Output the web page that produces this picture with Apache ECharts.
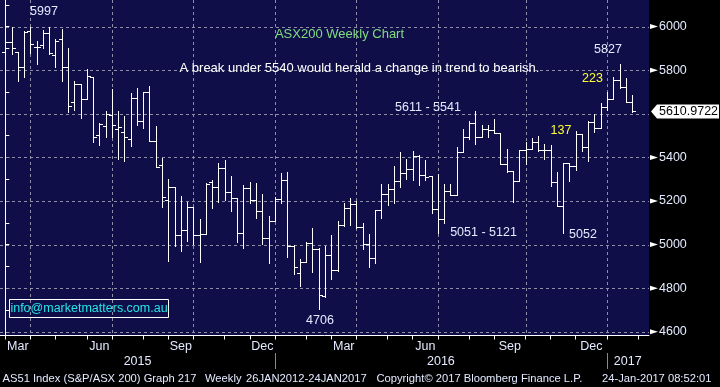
<!DOCTYPE html>
<html><head><meta charset="utf-8">
<script src="https://cdn.jsdelivr.net/npm/echarts@6/dist/echarts.min.js"></script>
<style>html,body{margin:0;padding:0;background:#000;}#c{width:720px;height:387px;}</style>
</head><body><div id="c"></div>
<script>
// Weekly OHLC bars (index 0 = week ending 27 Feb 2015 ... 100 = week of 24 Jan 2017)
const opens  = [5882,5931,5882,5813,5982,5908,5914,5969,5870,5942,5813,5652,5735,5666,5767,5502,5542,5595,5529,5517,5486,5672,5565,5700,5475,5363,5206,5262,5042,5068,5171,5042,5049,5285,5266,5350,5240,5215,5052,5258,5205,5154,5029,5108,5209,5296,4994,4869,4919,5006,4980,4766,4953,4884,5088,5166,5184,5082,5001,4937,5158,5234,5253,5291,5330,5349,5405,5317,5315,5162,5116,5246,5229,5424,5493,5559,5493,5531,5527,5513,5371,5336,5290,5432,5437,5470,5432,5432,5287,5179,5374,5362,5507,5447,5562,5535,5631,5668,5757,5723,5653];
const highs  = [5957,5997,5882,5980,5997,5934,5985,5997,5943,5989,5900,5750,5735,5805,5767,5556,5612,5714,5614,5591,5695,5718,5700,5729,5545,5395,5303,5262,5222,5195,5171,5118,5283,5296,5373,5388,5315,5215,5273,5285,5281,5232,5131,5220,5330,5334,4998,4933,5011,5075,4983,4994,5044,5108,5189,5216,5201,5097,5049,5158,5280,5280,5359,5425,5394,5428,5413,5390,5315,5325,5279,5279,5447,5531,5569,5611,5547,5550,5574,5513,5440,5336,5432,5470,5489,5500,5461,5458,5333,5374,5374,5520,5507,5569,5599,5650,5700,5769,5827,5765,5688];
const lows   = [5873,5873,5752,5767,5880,5827,5900,5873,5813,5752,5609,5617,5579,5666,5471,5459,5494,5495,5392,5385,5452,5549,5537,5475,5354,5172,4926,4995,4972,5018,5005,4918,5049,5169,5197,5205,5156,5014,4983,5189,5121,5002,4915,5108,5192,4945,4866,4808,4918,4876,4706,4760,4841,4880,5085,5090,5075,4979,4899,4915,5123,5181,5189,5265,5303,5295,5273,5295,5147,5051,5100,5226,5229,5424,5485,5463,5493,5493,5513,5371,5333,5195,5290,5371,5437,5428,5392,5267,5179,5052,5290,5340,5428,5385,5515,5535,5619,5668,5719,5653,5608];
const closes = [5931,5900,5813,5977,5919,5905,5969,5877,5934,5813,5635,5735,5666,5775,5494,5552,5597,5549,5538,5492,5672,5565,5700,5475,5357,5217,5262,5042,5068,5171,5042,5049,5280,5266,5350,5240,5215,5052,5258,5205,5154,5029,5108,5209,5296,4994,4896,4919,5006,4980,4769,4953,4884,5088,5166,5184,5082,5001,4937,5158,5234,5253,5291,5330,5349,5405,5317,5311,5162,5116,5246,5229,5424,5493,5559,5493,5531,5527,5513,5371,5336,5290,5432,5437,5470,5432,5432,5287,5179,5374,5362,5507,5447,5562,5535,5631,5668,5757,5723,5653,5611];
const lastPrice = 5610.9722;

// Axis positions (in bar-index units) and labels
const monthTickIdx   = [0,4,8,13,17,22,26,30,35,39,43,48,52,56,61,65,69,74,78,83,87,91,96,101];
const monthLabelIdx  = [2,15,28,41,54,67,80.5,93.5];
const monthLabels    = ['Mar','Jun','Sep','Dec','Mar','Jun','Sep','Dec'];
const yearLabelIdx   = [21.1,69.5,99.3];
const yearLabels     = ['2015','2016','2017'];
const yearSepIdx     = [43,96];
const quarterGridIdx = [4,17,30,43,56,69,83,96];
const yTickValues    = [4600,4700,4800,4900,5000,5100,5200,5300,5400,5500,5600,5700,5800,5900,6000,6100];
const yGridValues    = [4600,4800,5000,5200,5400,5600,5800,6000];
const yLabelValues   = [4600,4800,5000,5200,5400,5800,6000];

const X_MIN = -0.85, X_MAX = 102.7, Y_MIN = 4583, Y_MAX = 6122;
const TXT = '#e4eaff';
const FONT = "'Liberation Sans', Arial, sans-serif";

const chart = echarts.init(document.getElementById('c'), null, {renderer: 'canvas'});

const ohlcData = opens.map((o, i) => [i, o, highs[i], lows[i], closes[i]]);
const gridData = quarterGridIdx.map(v => [v, 0]).concat(yGridValues.map(v => [v, 1]));
const arrowData = yLabelValues.map(v => [X_MAX, v]);

function renderOHLC(params, api) {
  const i = api.value(0);
  const pO = api.coord([i, api.value(1)]);
  const pH = api.coord([i, api.value(2)]);
  const pL = api.coord([i, api.value(3)]);
  const pC = api.coord([i, api.value(4)]);
  const x = Math.round(pH[0]) + 0.5;
  const yo = Math.round(pO[1]) + 0.5, yc = Math.round(pC[1]) + 0.5;
  const st = {stroke: '#ffffff', lineWidth: 1};
  return {type: 'group', children: [
    {type: 'line', shape: {x1: x, y1: Math.round(pH[1]), x2: x, y2: Math.round(pL[1]) + 1}, style: st},
    {type: 'line', shape: {x1: x - 3.5, y1: yo, x2: x, y2: yo}, style: st},
    {type: 'line', shape: {x1: x, y1: yc, x2: x + 3.5, y2: yc}, style: st}
  ]};
}

function renderGrid(params, api) {
  const cs = params.coordSys;
  const v = api.value(0), kind = api.value(1);
  const st = {stroke: '#8e8ea4', lineWidth: 1, lineDash: [3, 3]};
  if (kind === 0) {
    const px = Math.round(api.coord([v, (Y_MIN + Y_MAX) / 2])[0]) + 0.5;
    return {type: 'line', shape: {x1: px, y1: cs.y, x2: px, y2: cs.y + cs.height}, style: st};
  }
  const py = Math.round(api.coord([0, v])[1]) + 0.5;
  return {type: 'line', shape: {x1: cs.x, y1: py, x2: cs.x + cs.width, y2: py}, style: st};
}

function renderArrow(params, api) {
  const p = api.coord([api.value(0), api.value(1)]);
  const x = Math.round(p[0]) + 1, y = p[1];
  return {type: 'polygon', shape: {points: [[x, y - 2.5], [x + 8, y], [x, y + 2.5]]}, style: {fill: '#ffffff'}};
}

function txt(text, x, y, color, size, align) {
  return {type: 'text', x: x, y: y, silent: true, z: 100,
    style: {text: text, fill: color, font: size + 'px ' + FONT, textAlign: align || 'center', textVerticalAlign: 'middle'}};
}

const option = {
  animation: false,
  backgroundColor: '#000000',
  grid: {left: 0, right: 71, top: 0, bottom: 51.5, show: true, backgroundColor: '#100e48', borderWidth: 0},
  xAxis: [
    {type: 'value', min: X_MIN, max: X_MAX, position: 'bottom',
      axisLine: {show: true, lineStyle: {color: '#ffffff', width: 1}},
      axisTick: {show: true, customValues: monthTickIdx, length: 4, lineStyle: {color: '#ffffff'}},
      axisLabel: {show: true, customValues: monthLabelIdx, margin: 5, color: TXT, fontSize: 12.5, fontFamily: FONT,
        formatter: v => monthLabels[monthLabelIdx.indexOf(v)] || ''},
      splitLine: {show: false}},
    {type: 'value', min: X_MIN, max: X_MAX, position: 'bottom', offset: 17.5,
      axisLine: {show: false},
      axisTick: {show: true, customValues: yearSepIdx, length: 16, lineStyle: {color: '#8a8a8a'}},
      axisLabel: {show: true, customValues: yearLabelIdx, margin: 2, color: TXT, fontSize: 12.5, fontFamily: FONT,
        formatter: v => yearLabels[yearLabelIdx.indexOf(v)] || ''},
      splitLine: {show: false}}
  ],
  yAxis: {type: 'value', min: Y_MIN, max: Y_MAX, position: 'right',
    axisLine: {show: true, lineStyle: {color: '#ffffff', width: 1}},
    axisTick: {show: true, customValues: yTickValues, length: 4, lineStyle: {color: '#ffffff'}},
    axisLabel: {show: true, customValues: yLabelValues, margin: 10, color: TXT, fontSize: 12.5, fontFamily: FONT,
      formatter: v => String(v)},
    splitLine: {show: false}},
  series: [
    {type: 'custom', name: 'grid', renderItem: renderGrid, data: gridData, z: 1, silent: true,
      encode: {x: 0, y: 1}},
    {type: 'custom', name: 'AS51', renderItem: renderOHLC, data: ohlcData, z: 5, silent: true,
      encode: {x: 0, y: [1, 2, 3, 4]}},
    {type: 'custom', name: 'arrows', renderItem: renderArrow, data: arrowData, z: 6, silent: true, clip: false,
      encode: {x: 0, y: 1}}
  ]
};
chart.setOption(option);

const py = chart.convertToPixel({yAxisIndex: 0}, lastPrice);
const ax = chart.convertToPixel({xAxisIndex: 0}, X_MAX);
const BF = 11.2;

option.graphic = [
  txt('5997', 44, 12, TXT, 12.5),
  txt('ASX200 Weekly Chart', 339.5, 34.5, '#80dc80', 13),
  txt('A break under 5540 would herald a change in trend to bearish.', 359.5, 68, '#ffffff', 13),
  txt('5611 - 5541', 428, 108, TXT, 12.5),
  txt('5827', 608, 50, TXT, 12.5),
  txt('223', 592.5, 79, '#ffff33', 12.5),
  txt('137', 561, 131, '#ffff33', 12.5),
  txt('5051 - 5121', 483.5, 233, TXT, 12.5),
  txt('5052', 583, 235, TXT, 12.5),
  txt('4706', 320, 321, TXT, 12.5),
  {type: 'rect', z: 100, shape: {x: 9.5, y: 299.5, width: 159, height: 18}, style: {fill: 'none', stroke: '#ffffff', lineWidth: 1}, silent: true},
  txt('info@marketmatters.com.au', 89, 308.5, '#22e6e6', 12.5),
  {type: 'polygon', silent: true, z: 99,
    shape: {points: [[ax + 2, py], [ax + 8, py - 7], [719, py - 7], [719, py + 7], [ax + 8, py + 7]]},
    style: {fill: '#ffffff'}},
  txt(String(lastPrice), 688.5, py, '#000000', 12.5),
  txt('AS51 Index (S&P/ASX 200) Graph 217', 2.5, 379, TXT, BF, 'left'),
  txt('Weekly', 205, 379, TXT, BF, 'left'),
  txt('26JAN2012-24JAN2017', 246, 379, TXT, BF, 'left'),
  txt('Copyright\u00A9 2017 Bloomberg Finance L.P.', 376.5, 379, TXT, BF, 'left'),
  txt('24-Jan-2017 08:52:01', 602, 379, TXT, BF, 'left')
];
chart.setOption(option);
</script>
</body></html>
